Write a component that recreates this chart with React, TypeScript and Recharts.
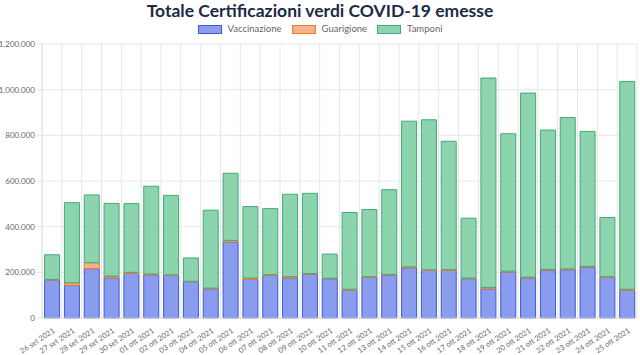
import React from "react";
import { BarChart, Bar, XAxis, YAxis, CartesianGrid } from "recharts";

const dates = [
  "26 set 2021", "27 set 2021", "28 set 2021", "29 set 2021", "30 set 2021",
  "01 ott 2021", "02 ott 2021", "03 ott 2021", "04 ott 2021", "05 ott 2021",
  "06 ott 2021", "07 ott 2021", "08 ott 2021", "09 ott 2021", "10 ott 2021",
  "11 ott 2021", "12 ott 2021", "13 ott 2021", "14 ott 2021", "15 ott 2021",
  "16 ott 2021", "17 ott 2021", "18 ott 2021", "19 ott 2021", "20 ott 2021",
  "21 ott 2021", "22 ott 2021", "23 ott 2021", "24 ott 2021", "25 ott 2021",
];

const vaccinazione = [
  166000, 143000, 216000, 176000, 195000, 189000, 186000, 159000, 128000, 333000,
  169000, 186000, 176000, 192000, 172000, 121000, 178000, 188000, 220000, 208000,
  208000, 172000, 128000, 201000, 175000, 210000, 211000, 223000, 178000, 121000,
];

const guarigione = [
  3000, 11000, 26000, 7000, 5000, 4000, 3000, 2000, 3000, 7000,
  6000, 4000, 5000, 3000, 2000, 5000, 3000, 3000, 4000, 3000,
  4000, 3000, 6000, 4000, 4000, 3000, 4000, 3000, 3000, 5000,
];

const tamponi = [
  108000, 351000, 297000, 319000, 301000, 384000, 348000, 102000, 341000, 294000,
  313000, 289000, 361000, 351000, 106000, 336000, 294000, 371000, 638000, 657000,
  562000, 262000, 917000, 602000, 806000, 610000, 663000, 591000, 259000, 910000,
];

const yTicks = [0, 200000, 400000, 600000, 800000, 1000000, 1200000];

const legendItems = [
  { label: "Vaccinazione", fill: "#8a9cee", stroke: "#3f57d6" },
  { label: "Guarigione", fill: "#f3b387", stroke: "#e67a36" },
  { label: "Tamponi", fill: "#8bd4ad", stroke: "#46a877" },
];

const data = dates.map((d, i) => ({
  date: d,
  vaccinazione: vaccinazione[i],
  guarigione: guarigione[i],
  tamponi: tamponi[i],
}));

const fmt = (v: number) => String(v).replace(/\B(?=(\d{3})+(?!\d))/g, ".");

const FONT = "Lato, 'Open Sans', sans-serif";

const XTick = (props: any) => {
  const { x, y, payload } = props;
  return (
    <g transform={`translate(${x + 3.5},${y + 6})`}>
      <text
        x={0}
        y={0}
        textAnchor="end"
        transform="rotate(-33)"
        fontSize={7.5}
        fontFamily={FONT}
        fill="#666"
      >
        {payload.value}
      </text>
    </g>
  );
};

export default function App() {
  return (
    <div
      style={{
        position: "absolute",
        left: 0,
        top: 0,
        width: 640,
        height: 355,
        background: "#fff",
        fontFamily: FONT,
      }}
    >
      <div
        style={{
          position: "absolute",
          left: 0,
          top: 0,
          width: 640,
          textAlign: "center",
          fontSize: 17.5,
          fontWeight: 700,
          color: "#1c2a46",
          lineHeight: "22px",
        }}
      >
        Totale Certificazioni verdi COVID-19 emesse
      </div>
      <div
        style={{
          position: "absolute",
          left: 0,
          top: 22,
          width: 640,
          display: "flex",
          justifyContent: "center",
          alignItems: "center",
          fontSize: 9.5,
          color: "#666",
          lineHeight: "14px",
        }}
      >
        {legendItems.map((it) => (
          <div key={it.label} style={{ display: "flex", alignItems: "center", margin: "0 5px" }}>
            <div
              style={{
                width: 22,
                height: 7,
                background: it.fill,
                border: `1px solid ${it.stroke}`,
                marginRight: 6,
              }}
            />
            <span>{it.label}</span>
          </div>
        ))}
      </div>
      <BarChart
        width={640}
        height={355}
        data={data}
        margin={{ top: 44, right: 3, left: 0, bottom: 0 }}
        barCategoryGap="13%"
      >
        <CartesianGrid
          stroke="#e6e6e6"
          verticalCoordinatesGenerator={({ offset }: any) =>
            Array.from({ length: data.length + 1 }, (_, i) => offset.left + (i * offset.width) / data.length)
          }
        />
        <XAxis
          dataKey="date"
          height={37}
          interval={0}
          tick={<XTick />}
          tickLine={false}
          axisLine={{ stroke: "#e0e0e0" }}
        />
        <YAxis
          width={42}
          domain={[0, 1200000]}
          ticks={yTicks}
          tickFormatter={fmt}
          tick={{ fontSize: 8, fill: "#666", fontFamily: FONT }}
          tickLine={{ stroke: "#e6e6e6" }}
          tickSize={5}
          tickMargin={2}
          axisLine={{ stroke: "#e0e0e0" }}
          interval={0}
        />
        <Bar dataKey="vaccinazione" stackId="a" fill="#8a9cee" stroke="#3f57d6" strokeWidth={1} isAnimationActive={false} />
        <Bar dataKey="guarigione" stackId="a" fill="#f3b387" stroke="#e67a36" strokeWidth={1} isAnimationActive={false} />
        <Bar dataKey="tamponi" stackId="a" fill="#8bd4ad" stroke="#46a877" strokeWidth={1} isAnimationActive={false} />
      </BarChart>
    </div>
  );
}
